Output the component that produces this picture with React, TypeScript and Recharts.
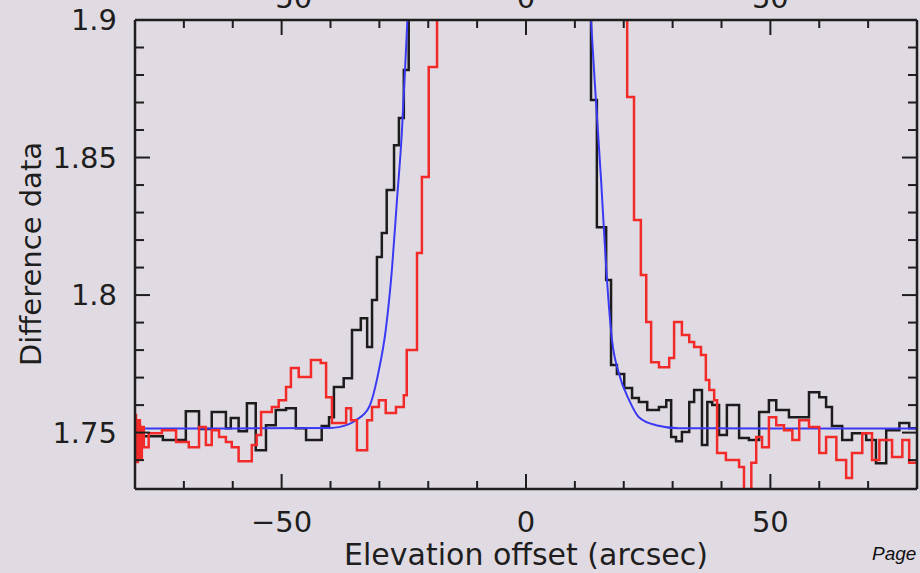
import { ComposedChart, Line, XAxis, YAxis } from "recharts";

// black histogram: step starts (arcsec) and levels
const blackX = [-80, -79.0, -74.3, -69.6, -66.9, -64.3, -61.4, -60.4, -58.8, -57.1, -55.3, -53.2, -51.2, -49.1, -47.1, -45.0, -41.8, -40.3, -39.3, -37.3, -35.6, -33.8, -32.5, -31.5, -30.5, -29.5, -28.5, -27.0, -26.0, -25.0, -24.0, -20, -14, -6, 2, 8, 11.5, 13.3, 14.5, 16.4, 17.4, 18.6, 20.1, 21.7, 23.1, 24.8, 27.2, 28.7, 29.7, 30.7, 31.9, 33.4, 34.4, 36.0, 37.1, 38.1, 39.5, 41.1, 43.6, 45.6, 47.7, 49.7, 51.2, 53.8, 57.9, 60.0, 61.4, 62.6, 64.7, 66.7, 69.6, 71.6, 73.7, 76.4, 78.4, 80];
const blackY = [1.7527, 1.7487, 1.7473, 1.7578, 1.7513, 1.7575, 1.7516, 1.7553, 1.7505, 1.7607, 1.7436, 1.7527, 1.7582, 1.7589, 1.7516, 1.7473, 1.7524, 1.7556, 1.7666, 1.7698, 1.7873, 1.7916, 1.7811, 1.7982, 1.8138, 1.8226, 1.8382, 1.8545, 1.8644, 1.8818, 1.93, 1.99, 2.05, 2.08, 2.05, 1.98, 1.93, 1.8709, 1.8247, 1.8055, 1.7746, 1.7713, 1.7662, 1.7626, 1.7611, 1.7582, 1.7593, 1.7618, 1.7484, 1.7469, 1.7502, 1.7611, 1.7655, 1.7455, 1.7611, 1.76, 1.7491, 1.76, 1.748, 1.7473, 1.7575, 1.7618, 1.7582, 1.7556, 1.7647, 1.7629, 1.7593, 1.7524, 1.7473, 1.7498, 1.7473, 1.7389, 1.7509, 1.7535, 1.7516, 1.7516];

// red histogram
const redX = [-80, -79.8, -79.4, -79.0, -78.6, -78.2, -77.2, -74.5, -71.6, -69.0, -66.9, -65.5, -64.3, -62.8, -61.4, -60.2, -58.8, -56.1, -55.1, -54.2, -52.0, -50.6, -49.1, -48.1, -46.5, -44.0, -42.0, -40.9, -39.7, -36.8, -35.8, -34.6, -32.5, -31.5, -30.1, -28.7, -26.6, -25.0, -24.4, -22.3, -21.3, -19.9, -18.2, -12, -4, 4, 12, 18, 20.7, 22.1, 23.5, 24.6, 25.6, 27.2, 29.3, 30.3, 31.9, 33.4, 34.4, 35.8, 36.8, 37.5, 38.5, 39.1, 40.9, 43.6, 44.6, 46.1, 47.1, 48.3, 49.7, 51.2, 52.8, 54.5, 55.9, 57.9, 60.0, 61.4, 63.5, 65.5, 66.7, 68.8, 70.8, 72.3, 74.9, 77.0, 78.4, 80];
const redY = [1.7564, 1.7393, 1.7545, 1.7407, 1.752, 1.7447, 1.7498, 1.7509, 1.7466, 1.7447, 1.752, 1.7455, 1.7509, 1.7484, 1.7466, 1.7447, 1.7396, 1.7455, 1.7491, 1.7575, 1.7593, 1.7618, 1.7666, 1.7735, 1.7702, 1.7764, 1.7753, 1.7629, 1.7535, 1.7589, 1.7545, 1.7436, 1.7545, 1.7593, 1.7618, 1.7571, 1.7593, 1.7636, 1.78, 1.8153, 1.8429, 1.8829, 1.94, 2.02, 2.07, 2.06, 2.0, 1.94, 1.872, 1.8273, 1.8073, 1.7902, 1.7756, 1.7738, 1.7771, 1.7902, 1.7855, 1.7829, 1.7811, 1.7782, 1.7691, 1.7655, 1.7618, 1.7426, 1.74, 1.7375, 1.728, 1.739, 1.7484, 1.7447, 1.7556, 1.7527, 1.7509, 1.7473, 1.7545, 1.752, 1.7426, 1.7484, 1.74, 1.7335, 1.7426, 1.7498, 1.74, 1.7473, 1.7411, 1.7473, 1.739, 1.739];

// blue fitted profile
const fitX = [-80, -60, -40, -38.3, -34.8, -32.1, -30.1, -28.7, -27.4, -26.4, -25.4, -24.4, -23, -20, -5, 5, 11, 13.3, 14.3, 15.4, 16.4, 17.6, 19.0, 21.1, 23.1, 26.6, 31.3, 50, 80];
const fitY = [1.7515, 1.7515, 1.7517, 1.752, 1.7545, 1.7593, 1.7727, 1.7873, 1.81, 1.8345, 1.859, 1.895, 1.95, 2.05, 2.2, 2.15, 2.0, 1.9, 1.871, 1.8407, 1.81, 1.7836, 1.7716, 1.7618, 1.7556, 1.7527, 1.7516, 1.7515, 1.7515];

const xTicks = [-70, -60, -50, -40, -30, -20, -10, 0, 10, 20, 30, 40, 50, 60, 70];
const xLabels = [-50, 0, 50];
const yTicks = [1.74, 1.75, 1.76, 1.77, 1.78, 1.79, 1.8, 1.81, 1.82, 1.83, 1.84, 1.85, 1.86, 1.87, 1.88, 1.89, 1.9];
const yLabels = [1.75, 1.8, 1.85, 1.9];

const toSeries = (xs: number[], ys: number[]) => xs.map((x, i) => ({ x, y: ys[i] }));
const blackData = toSeries(blackX, blackY);
const redData = toSeries(redX, redY);
const fitData = toSeries(fitX, fitY);

const INK = "#1e1e1e";
const FONT = "'DejaVu Sans', sans-serif";
const fmtX = (v: number) => (v < 0 ? `\u2212${-v}` : `${v}`);

function BottomTick({ x, y, payload }: any) {
  const major = xLabels.includes(payload.value);
  return (
    <g>
      <line x1={x} x2={x} y1={y} y2={y - (major ? 15 : 8)} stroke={INK} strokeWidth={2} />
      {major && (
        <text x={x} y={y + 43} textAnchor="middle" fontSize={29} fontFamily={FONT} fill={INK}>
          {fmtX(payload.value)}
        </text>
      )}
    </g>
  );
}

function TopTick({ x, y, payload }: any) {
  const major = xLabels.includes(payload.value);
  return (
    <g>
      <line x1={x} x2={x} y1={y} y2={y + (major ? 15 : 8)} stroke={INK} strokeWidth={2} />
      {major && (
        <text x={x} y={y - 12} textAnchor="middle" fontSize={29} fontFamily={FONT} fill={INK}>
          {fmtX(payload.value)}
        </text>
      )}
    </g>
  );
}

function LeftTick({ x, y, payload }: any) {
  const major = yLabels.includes(payload.value);
  return (
    <g>
      <line x1={x} x2={x + (major ? 15 : 9)} y1={y} y2={y} stroke={INK} strokeWidth={2} />
      {major && (
        <text x={x - 18} y={y + 10} textAnchor="end" fontSize={29} fontFamily={FONT} fill={INK}>
          {String(payload.value)}
        </text>
      )}
    </g>
  );
}

function RightTick({ x, y, payload }: any) {
  const major = yLabels.includes(payload.value);
  return <line x1={x} x2={x - (major ? 15 : 9)} y1={y} y2={y} stroke={INK} strokeWidth={2} />;
}

export default function App() {
  const axisLine = { stroke: INK, strokeWidth: 2.5 };
  return (
    <div style={{ position: "absolute", left: 0, top: 0, width: 920, height: 573, background: "#e0dbe2", overflow: "hidden" }}>
      <ComposedChart width={920} height={573} margin={{ top: 0, right: 0, bottom: 0, left: 0 }}>
        <XAxis xAxisId="bottom" dataKey="x" type="number" domain={[-80, 80]} allowDataOverflow
          ticks={xTicks} interval={0} height={84} tickSize={0} tickMargin={0} tickLine={false}
          axisLine={axisLine} tick={(p: any) => <BottomTick {...p} />} />
        <XAxis xAxisId="top" orientation="top" dataKey="x" type="number" domain={[-80, 80]} allowDataOverflow
          ticks={xTicks} interval={0} height={20} tickSize={0} tickMargin={0} tickLine={false}
          axisLine={axisLine} tick={(p: any) => <TopTick {...p} />} />
        <YAxis yAxisId="left" type="number" domain={[1.7295, 1.9]} allowDataOverflow
          ticks={yTicks} interval={0} width={135} tickSize={0} tickMargin={0} tickLine={false}
          axisLine={axisLine} tick={(p: any) => <LeftTick {...p} />} />
        <YAxis yAxisId="right" orientation="right" type="number" domain={[1.7295, 1.9]} allowDataOverflow
          ticks={yTicks} interval={0} width={3} tickSize={0} tickMargin={0} tickLine={false}
          axisLine={axisLine} tick={(p: any) => <RightTick {...p} />} />
        <Line xAxisId="bottom" yAxisId="left" data={blackData} dataKey="y" type="stepAfter"
          stroke="#1c1c1c" strokeWidth={2.5} dot={false} isAnimationActive={false} />
        <Line xAxisId="bottom" yAxisId="left" data={fitData} dataKey="y" type="monotone"
          stroke="#3a3af5" strokeWidth={2} dot={false} isAnimationActive={false} />
        <Line xAxisId="bottom" yAxisId="left" data={redData} dataKey="y" type="stepAfter"
          stroke="#f22a2a" strokeWidth={2.5} dot={false} isAnimationActive={false} />
      </ComposedChart>
      <svg width={920} height={573} style={{ position: "absolute", left: 0, top: 0, pointerEvents: "none" }}>
        <text x={31} y={254} transform="rotate(-90, 31, 254)" textAnchor="middle" dominantBaseline="central"
          fontSize={29} fontFamily={FONT} fill={INK}>
          Difference data
        </text>
        <text x={526} y={565} textAnchor="middle" fontSize={30} fontFamily={FONT} fill={INK}>
          Elevation offset (arcsec)
        </text>
        <text x={872} y={560} fontSize={19} fontStyle="italic" fontFamily="'Liberation Sans', Arial, sans-serif" fill="#111">
          Page
        </text>
      </svg>
    </div>
  );
}
